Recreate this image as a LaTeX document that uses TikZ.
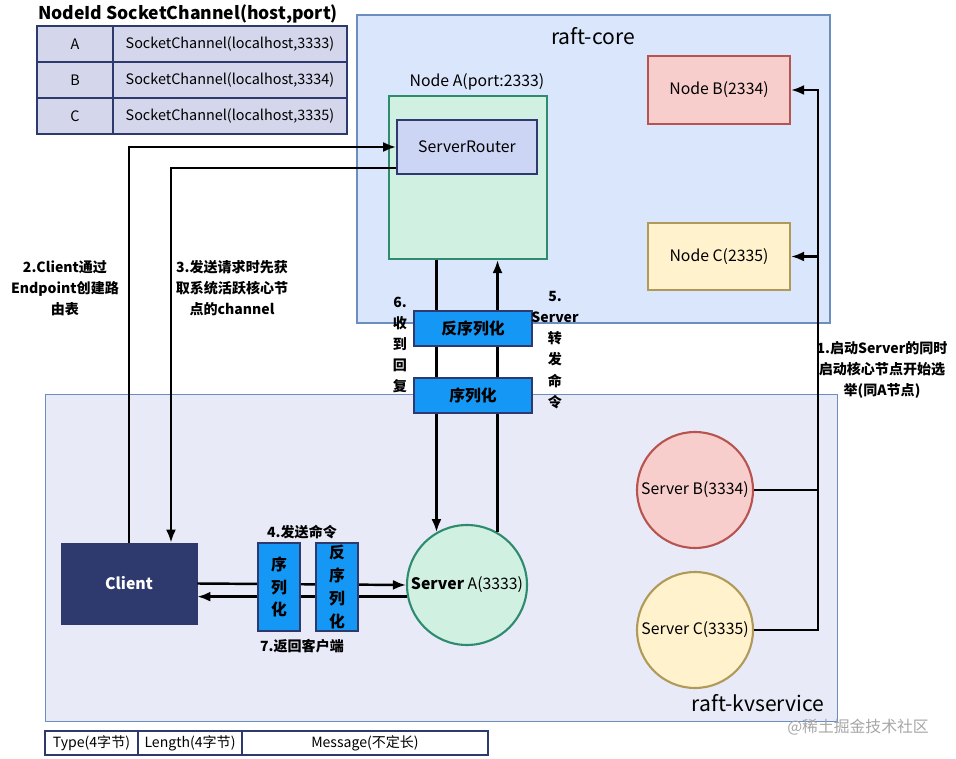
\documentclass[tikz,border=0pt]{standalone}
\usepackage{fontspec}
\setmainfont{Noto Sans CJK SC}
\usepackage{xcolor}
\usetikzlibrary{arrows.meta, positioning}

\definecolor{navy}{HTML}{2E3A6E}
\definecolor{cellfill}{HTML}{D4D6EC}
\definecolor{routerfill}{HTML}{CDD5F5}
\definecolor{corefill}{HTML}{DAE6FC}
\definecolor{coreline}{HTML}{6C8EBF}
\definecolor{kvfill}{HTML}{E8EAF8}
\definecolor{greenfill}{HTML}{D0F0E2}
\definecolor{greenline}{HTML}{2E8B6E}
\definecolor{redfill}{HTML}{F8CECC}
\definecolor{redline}{HTML}{B85450}
\definecolor{yellowfill}{HTML}{FFF2CC}
\definecolor{yellowline}{HTML}{B09A5A}
\definecolor{serfill}{HTML}{1598F5}

\begin{document}
\begin{tikzpicture}[x=0.02cm, y=-0.02cm,
    box/.style={rectangle, draw, align=center, font=\small, inner sep=1pt},
    cell/.style={box, draw=navy, line width=1pt, fill=cellfill, minimum height=0.72cm, font=\fontsize{8.2}{10}\selectfont},
    bcell/.style={box, draw=navy, line width=1pt, fill=white, minimum height=0.48cm, font=\footnotesize},
    ser/.style={box, draw=navy, fill=serfill, font=\small\bfseries, line width=0.6pt},
    srv/.style={circle, draw, line width=1.2pt, font=\small, inner sep=0pt},
    lbl/.style={align=center, font=\fontsize{8}{12}\bfseries\selectfont},
    arr/.style={-{Latex[length=2.6mm, width=2mm]}, line width=1.4pt},
    link/.style={line width=1.4pt}
]
\useasboundingbox (0,0) rectangle (956,759);

% Table
\node[font=\bfseries] (title) at (188,14) {NodeId SocketChannel(host,port)};
\foreach \k/\p [count=\i] in {A/3333, B/3334, C/3335} {
  \node[cell, minimum width=1.52cm] (id\k) at (75,{26+36*\i-18}) {\k};
  \node[cell, minimum width=4.68cm] (ch\k) at (230,{26+36*\i-18}) {SocketChannel(localhost,\p)};
}

% raft-core
\node[box, draw=coreline, line width=1pt, fill=corefill, minimum width=9.46cm, minimum height=6.16cm] (core) at (593.5,169) {};
\node[font=\large] at (593,36) {raft-core};
\node[box, draw=greenline, line width=1.2pt, fill=greenfill, minimum width=3.16cm, minimum height=3.26cm] (nodeA) at (468,177.5) {};
\node[font=\small] at (477,82) {Node A(port:2333)};
\node[box, draw=navy, line width=1pt, fill=routerfill, minimum width=2.8cm, minimum height=1.08cm] (router) at (467,147) {ServerRouter};
\node[box, draw=redline, line width=1.2pt, fill=redfill, minimum width=2.84cm, minimum height=1.36cm] (nodeB) at (719,90) {Node B(2334)};
\node[box, draw=yellowline, line width=1.2pt, fill=yellowfill, minimum width=2.84cm, minimum height=1.34cm] (nodeC) at (719,256.5) {Node C(2335)};

% raft-kvservice
\node[box, draw=coreline, line width=0.6pt, fill=kvfill, minimum width=15.86cm, minimum height=6.56cm] (kv) at (441.5,558) {};
\node[font=\large] at (758,703) {raft-kvservice};
\node[box, draw=navy, fill=navy, text=white, font=\small\bfseries, minimum width=2.72cm, minimum height=1.62cm] (client) at (129,583.5) {Client};
\node[srv, draw=greenline, fill=greenfill, minimum size=2.4cm] (serverA) at (467,585) {\textbf{Server} A(3333)};
\node[srv, draw=redline, fill=redfill, minimum size=2.32cm] (serverB) at (695,490) {Server B(3334)};
\node[srv, draw=yellowline, fill=yellowfill, minimum size=2.32cm] (serverC) at (695,630) {Server C(3335)};

% Arrows
\draw[arr] (client.north) |- (router.west);
\draw[arr] ([yshift=-0.42cm]router.west) -| ([xshift=0.84cm]client.north);
\draw[arr] (nodeA.south -| serverA.120) -- (serverA.120);
\draw[arr] (serverA.60) -- (serverA.60 |- nodeA.south);
\draw[arr] (client.east) -- (serverA.west);
\draw[arr] (serverA.191) -- (client.east |- serverA.191);
\coordinate (bus) at (818,90);
\draw[arr] (serverB.east) -| (bus) -- (nodeB.east);
\draw[link] (serverC.east) -| (serverB.east -| bus);
\draw[arr] (bus |- nodeC.east) -- (nodeC.east);

% Codec boxes
\node[ser, minimum width=2.36cm, minimum height=0.7cm] (decA) at (473,328.5) {反序列化};
\node[ser, minimum width=2.36cm, minimum height=0.7cm] (encA) at (473,395.5) {序列化};
\node[ser, minimum width=0.84cm, minimum height=1.76cm] (encC) at (279,587) {序\\[2pt]列\\[2pt]化};
\node[ser, minimum width=0.84cm, minimum height=1.76cm] (decC) at (337,587) {反\\[2pt]序\\[2pt]列\\[2pt]化};

% Labels
\node[lbl] at (65,288) {2.Client通过\\Endpoint创建路\\由表};
\node[lbl] at (232,288) {3.发送请求时先获\\取系统活跃核心节\\点的channel};
\node[lbl] at (400,345) {6.\\收\\到\\回\\复};
\node[lbl] at (555,350) {5.\\Server\\转\\发\\命\\令};
\node[lbl] at (302,532) {4.发送命令};
\node[lbl] at (302,646) {7.返回客户端};
\node[lbl] at (882,370) {1.启动Server的同时\\启动核心节点开始选\\举(同A节点)};

% Frame layout
\node[bcell, minimum width=1.86cm] (fType) at (91.5,743) {Type(4字节)};
\node[bcell, minimum width=2.08cm] (fLen) at (190,743) {Length(4字节)};
\node[bcell, minimum width=4.92cm] (fMsg) at (365,743) {Message(不定长)};
\node[text=gray!70, font=\small] at (858,727) {@稀土掘金技术社区};
\end{tikzpicture}
\end{document}
